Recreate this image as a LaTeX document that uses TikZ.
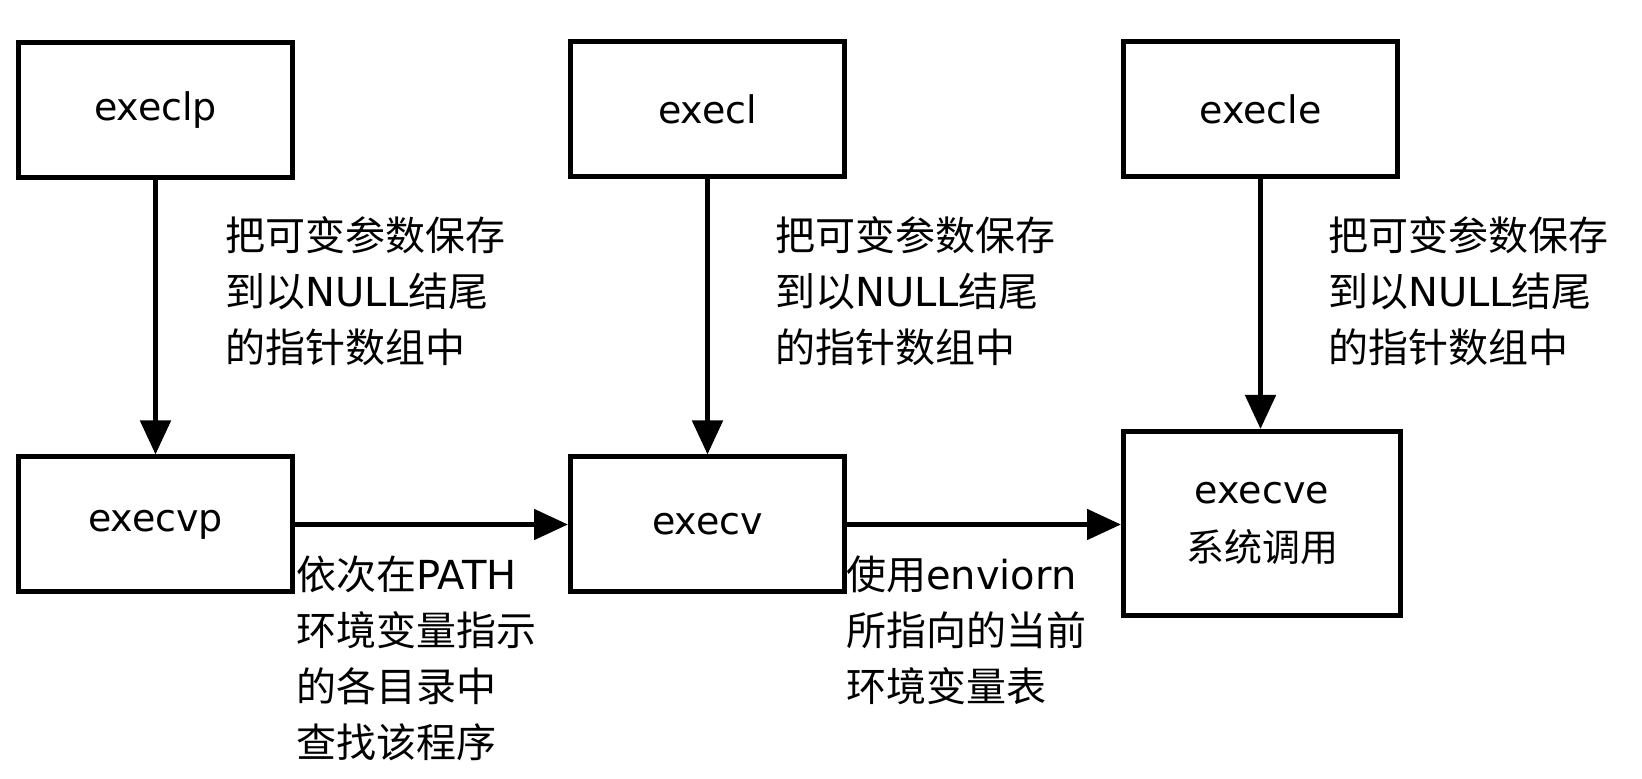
\documentclass[tikz,border=0pt]{standalone}
\usepackage{fontspec}
\setmainfont{DejaVu Sans}
\newfontfamily\cjk{Noto Sans CJK SC}
\usetikzlibrary{arrows.meta}
\begin{document}
\begin{tikzpicture}[x=1pt,y=1pt,
  box/.style={draw,line width=5pt,minimum width=274pt,minimum height=135pt,inner sep=0pt,font=\fontsize{38}{58}\selectfont,align=center},
  lbl/.style={anchor=north west,inner sep=0pt,align=left,font=\fontsize{40}{56}\selectfont},
  arr/.style={line width=5pt,-{Triangle[width=30pt,length=34pt]}}]
\useasboundingbox (0,0) rectangle (1642,779);
\node[box] (execlp) at (155.5,669) {execlp};
\node[box] (execl) at (707.5,670) {execl};
\node[box] (execle) at (1260.5,670) {execle};
\node[box] (execvp) at (155.5,254.5) {execvp};
\node[box] (execv) at (707.5,254.5) {execv};
\node[box,minimum width=277pt,minimum height=184pt] (execve) at (1262,255.5) {execve\\{\cjk 系统调用}};
\draw[arr] (execlp) -- (execvp);
\draw[arr] (execl) -- (execv);
\draw[arr] (execle.south) -- (execle.south |- execve.north);
\draw[arr] (execvp) -- (execv);
\draw[arr] (execv.east) -- (execv.east -| execve.west);
\node[lbl] (l1) at (225,563) {{\cjk 把可变参数保存}\\{\cjk 到以}NULL{\cjk 结尾}\\{\cjk 的指针数组中}};
\node[lbl] (l2) at (775,563) {{\cjk 把可变参数保存}\\{\cjk 到以}NULL{\cjk 结尾}\\{\cjk 的指针数组中}};
\node[lbl] (l3) at (1328,563) {{\cjk 把可变参数保存}\\{\cjk 到以}NULL{\cjk 结尾}\\{\cjk 的指针数组中}};
\node[lbl] (l4) at (296,223) {{\cjk 依次在}PATH\\{\cjk 环境变量指示}\\{\cjk 的各目录中}\\{\cjk 查找该程序}};
\node[lbl] (l5) at (846,223) {{\cjk 使用}enviorn\\{\cjk 所指向的当前}\\{\cjk 环境变量表}};
\end{tikzpicture}
\end{document}
